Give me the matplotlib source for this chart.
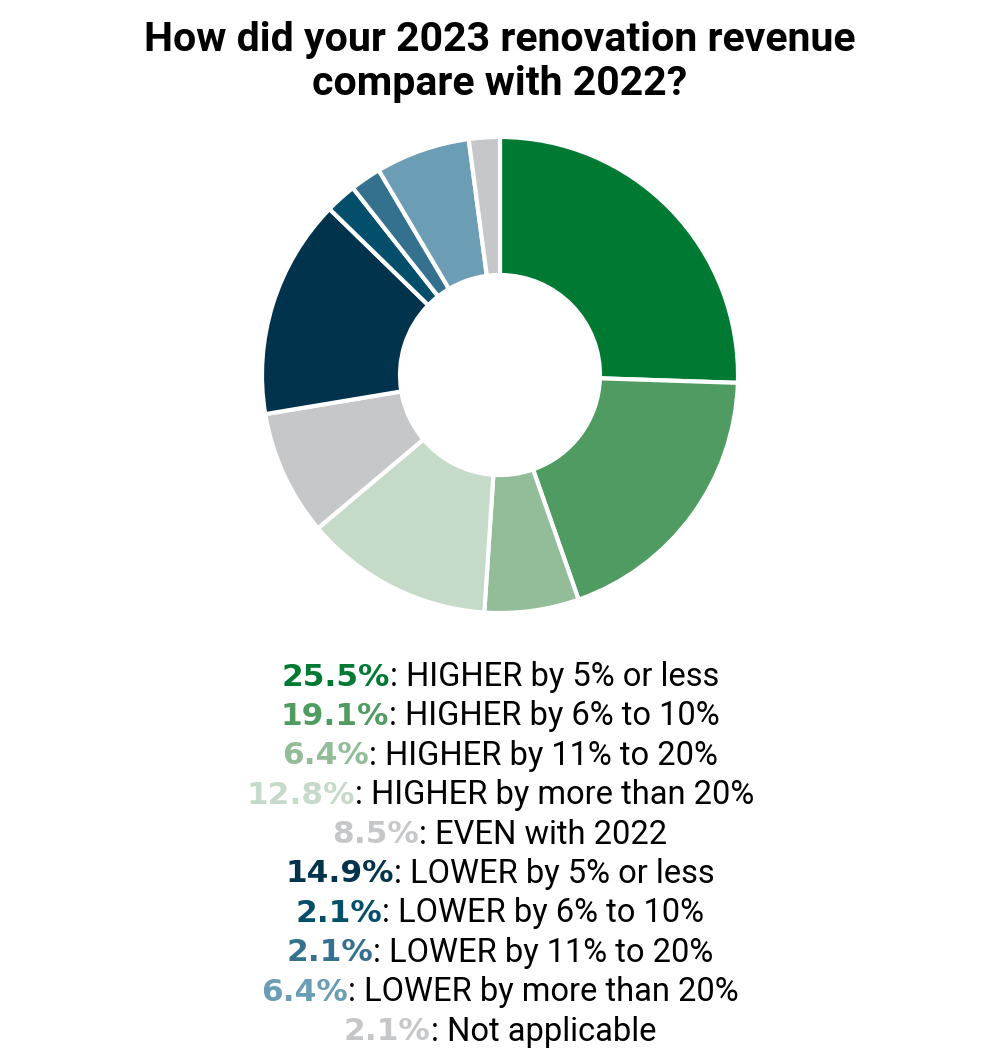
import matplotlib
matplotlib.use("Agg")
import matplotlib.pyplot as plt

# dados
valores = [25.5, 19.1, 6.4, 12.8, 8.5, 14.9, 2.1, 2.1, 6.4, 2.1]
rotulos = ["HIGHER by 5% or less", "HIGHER by 6% to 10%", "HIGHER by 11% to 20%",
           "HIGHER by more than 20%", "EVEN with 2022", "LOWER by 5% or less",
           "LOWER by 6% to 10%", "LOWER by 11% to 20%", "LOWER by more than 20%",
           "Not applicable"]
cores = ["#007A33", "#509B62", "#93BD99", "#C5DAC8", "#C6C7C9",
         "#01334C", "#034E6A", "#33718F", "#6B9DB5", "#C6C7C9"]

titulo = "How did your 2023 renovation revenue\ncompare with 2022?"

fig = plt.figure(figsize=(10, 10.6), dpi=100)

# ROSCA
ax = fig.add_axes([(500 - 240) / 1000, (1060 - 375 - 240) / 1060, 480 / 1000, 480 / 1060])
ax.pie(valores, colors=cores, startangle=90, counterclock=False, radius=238 / 240,
       wedgeprops=dict(width=0.575, edgecolor="white", linewidth=3))
ax.set_xlim(-1, 1)
ax.set_ylim(-1, 1)
ax.set_aspect("equal")
ax.axis("off")

fig.text(0.5, 1 - 62 / 1060, titulo, ha="center", va="center", fontsize=29.5,
         fontweight="bold", family="Roboto", linespacing=1.18)

# LEGENDA - percentual em negrito colorido + texto preto, centralizado
renderer = fig.canvas.get_renderer()
y0 = 677
passo = 39.4
for i, (v, r, c) in enumerate(zip(valores, rotulos, cores)):
    y = 1 - (y0 + i * passo) / 1060
    t1 = fig.text(0, y, f"{v:.1f}%", fontsize=22.5, fontweight="bold", color=c,
                  family="DejaVu Sans", va="center")
    t2 = fig.text(0, y, f": {r}", fontsize=23.5, color="black", family="Roboto", va="center")
    w1 = t1.get_window_extent(renderer).width
    w2 = t2.get_window_extent(renderer).width
    x_ini = (1000 - (w1 + w2)) / 2
    t1.set_x(x_ini / 1000)
    t2.set_x((x_ini + w1) / 1000)

plt.savefig("out.png", dpi=100)
